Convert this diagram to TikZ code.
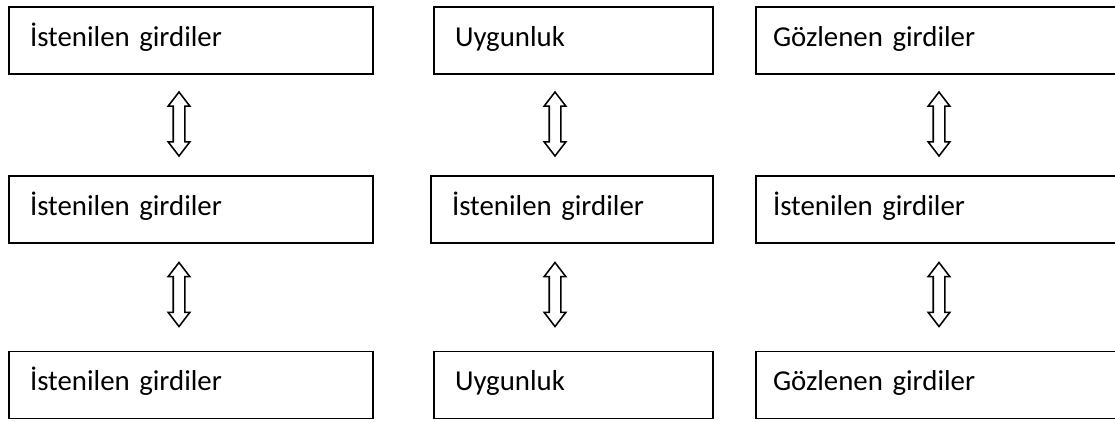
\documentclass[tikz,border=0pt]{standalone}
\usepackage{fontspec}
\setmainfont{Carlito}
\usepackage{tikz}
\usetikzlibrary{shapes.arrows}

\begin{document}
\begin{tikzpicture}[
  field/.style={draw, line width=1.1pt, minimum height=1.675cm, inner xsep=0.525cm, align=left, text height=0.5cm, text depth=0.225cm, font=\fontsize{20.5}{24}\selectfont},
  link/.style={draw, double arrow, rotate=90, line width=1.1pt, minimum height=1.6cm, minimum width=0.5cm, double arrow head extend=0.125cm, double arrow tip angle=75, inner xsep=0pt, inner ysep=0.125cm}
]
  \useasboundingbox (0,0) rectangle (27.875,-10.525);

  % left column
  \node[field, text width=8.05cm] (l1) at (4.775,-1.0125) {İstenilen girdiler};
  \node[field, text width=8.05cm] (l2) at (4.775,-5.2375) {İstenilen girdiler};
  \node[field, text width=8.05cm] (l3) at (4.775,-9.625) {İstenilen girdiler};

  % middle column
  \node[field, text width=5.925cm] (m1) at (14.3375,-1.0125) {Uygunluk};
  \node[field, text width=6cm] (m2) at (14.3,-5.2375) {İstenilen girdiler};
  \node[field, text width=5.925cm] (m3) at (14.3375,-9.625) {Uygunluk};

  % right column, runs off the page edge
  \node[field, inner xsep=0.425cm, text width=8.5cm] (r1) at (23.575,-1.0125) {Gözlenen girdiler};
  \node[field, inner xsep=0.425cm, text width=8.5cm] (r2) at (23.575,-5.2375) {İstenilen girdiler};
  \node[field, inner xsep=0.425cm, text width=8.5cm] (r3) at (23.575,-9.625) {Gözlenen girdiler};

  % two-way arrows between the rows
  \node[link] (la1) at (4.475,-3.1) {};
  \node[link] (la2) at (4.475,-7.3625) {};
  \node[link] (ma1) at (13.875,-3.1) {};
  \node[link] (ma2) at (13.875,-7.3625) {};
  \node[link] (ra1) at (23.475,-3.1) {};
  \node[link] (ra2) at (23.475,-7.3625) {};
\end{tikzpicture}
\end{document}
